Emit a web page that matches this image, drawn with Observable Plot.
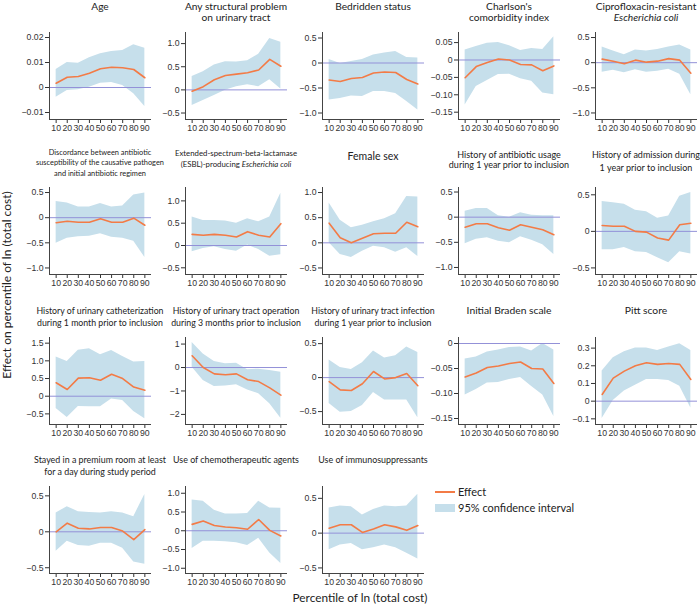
<!DOCTYPE html>
<html>
<head>
<meta charset="utf-8">
<script src="https://cdn.jsdelivr.net/npm/d3@7"></script>
<script src="https://cdn.jsdelivr.net/npm/@observablehq/plot@0.6"></script>
<style>
  html, body { margin: 0; padding: 0; background: #fff; }
  #chart { position: relative; width: 700px; height: 607px; overflow: hidden; font-family: Lato, "Open Sans", sans-serif; color: #222; }
  .ttl { position: absolute; text-align: center; white-space: nowrap; color: #222; }
  .panel { position: absolute; }
</style>
</head>
<body>
<div id="chart"></div>
<script>
// ---------- data ----------
const percentiles = [10, 20, 30, 40, 50, 60, 70, 80, 90];

const titles = [
  ["Age"],
  ["Any structural problem", "on urinary tract"],
  ["Bedridden status"],
  ["Charlson's", "comorbidity index"],
  ["Ciprofloxacin-resistant", "Escherichia coli"],
  ["Discordance between antibiotic", "susceptibility of the causative pathogen", "and initial antibiotic regimen"],
  ["Extended-spectrum-beta-lactamase", "(ESBL)-producing Escherichia coli"],
  ["Female sex"],
  ["History of antibiotic usage", "during 1 year prior to inclusion"],
  ["History of admission during", "1 year prior to inclusion"],
  ["History of urinary catheterization", "during 1 month prior to inclusion"],
  ["History of urinary tract operation", "during 3 months prior to inclusion"],
  ["History of urinary tract infection", "during 1 year prior to inclusion"],
  ["Initial Braden scale"],
  ["Pitt score"],
  ["Stayed in a premium room at least", "for a day during study period"],
  ["Use of chemotherapeutic agents"],
  ["Use of immunosuppressants"]
];
const italicPhrases = ["Escherichia coli"];

const effect = [
  [0.0017, 0.0041, 0.0044, 0.0057, 0.0075, 0.0081, 0.0079, 0.0072, 0.0039],
  [-0.03, 0.07, 0.22, 0.31, 0.34, 0.37, 0.43, 0.66, 0.51],
  [-0.34, -0.37, -0.31, -0.29, -0.20, -0.18, -0.19, -0.33, -0.42],
  [-0.051, -0.019, -0.007, 0.003, 0.0, -0.013, -0.014, -0.031, -0.017],
  [0.07, 0.03, -0.02, 0.05, 0.01, 0.03, 0.08, 0.05, -0.21],
  [-0.10, -0.07, -0.09, -0.09, -0.02, -0.09, -0.09, -0.01, -0.15],
  [0.25, 0.23, 0.25, 0.23, 0.19, 0.31, 0.23, 0.19, 0.49],
  [0.39, 0.10, 0.0, 0.09, 0.18, 0.19, 0.19, 0.41, 0.32],
  [-0.20, -0.13, -0.13, -0.21, -0.26, -0.15, -0.20, -0.25, -0.35],
  [0.08, 0.07, 0.07, 0.0, -0.01, -0.09, -0.12, 0.09, 0.11],
  [0.38, 0.19, 0.51, 0.52, 0.45, 0.62, 0.50, 0.26, 0.17],
  [0.50, 0.0, -0.27, -0.31, -0.27, -0.52, -0.60, -0.87, -1.18],
  [-0.06, -0.18, -0.19, -0.09, 0.09, -0.02, 0.0, 0.06, -0.12],
  [-0.067, -0.059, -0.048, -0.045, -0.040, -0.037, -0.050, -0.051, -0.080],
  [0.038, 0.13, 0.17, 0.20, 0.217, 0.208, 0.213, 0.208, 0.123],
  [0.0, 0.12, 0.05, 0.04, 0.06, 0.06, 0.01, -0.11, 0.03],
  [0.17, 0.26, 0.14, 0.10, 0.08, 0.04, 0.30, 0.01, -0.14],
  [0.07, 0.12, 0.12, 0.01, 0.06, 0.12, 0.09, 0.04, 0.11]
];

const upper = [
  [0.0072, 0.0100, 0.0097, 0.0119, 0.0135, 0.0144, 0.0148, 0.0171, 0.0157],
  [0.29, 0.39, 0.54, 0.61, 0.60, 0.63, 0.77, 1.11, 1.03],
  [0.07, -0.01, 0.03, 0.07, 0.16, 0.20, 0.23, 0.11, 0.10],
  [0.029, 0.039, 0.048, 0.050, 0.041, 0.027, 0.033, 0.030, 0.067],
  [0.31, 0.23, 0.16, 0.25, 0.23, 0.26, 0.31, 0.35, 0.25],
  [0.32, 0.29, 0.21, 0.21, 0.28, 0.21, 0.23, 0.45, 0.49],
  [0.64, 0.56, 0.56, 0.55, 0.50, 0.60, 0.53, 0.64, 1.17],
  [0.79, 0.45, 0.30, 0.35, 0.42, 0.48, 0.58, 0.92, 0.91],
  [0.12, 0.17, 0.17, 0.03, 0.0, 0.09, 0.04, 0.03, 0.03],
  [0.41, 0.39, 0.37, 0.29, 0.27, 0.18, 0.21, 0.48, 0.53],
  [1.11, 0.98, 1.30, 1.34, 1.17, 1.29, 1.12, 0.97, 0.98],
  [1.07, 0.58, 0.26, 0.16, 0.18, -0.09, -0.07, -0.13, -0.20],
  [0.26, 0.15, 0.12, 0.22, 0.39, 0.29, 0.32, 0.45, 0.37],
  [-0.031, -0.027, -0.017, -0.013, -0.008, -0.007, -0.015, 0.0, -0.013],
  [0.17, 0.245, 0.28, 0.30, 0.30, 0.287, 0.306, 0.325, 0.287],
  [0.26, 0.35, 0.28, 0.27, 0.26, 0.28, 0.26, 0.21, 0.52],
  [0.82, 0.79, 0.55, 0.45, 0.45, 0.46, 0.79, 0.61, 0.60],
  [0.36, 0.39, 0.38, 0.26, 0.34, 0.39, 0.38, 0.39, 0.56]
];

const lower = [
  [-0.0039, -0.0012, -0.0009, 0.0001, 0.0017, 0.0020, 0.0008, -0.0025, -0.0076],
  [-0.34, -0.23, -0.12, -0.01, 0.07, 0.11, 0.07, 0.22, 0.02],
  [-0.74, -0.71, -0.66, -0.67, -0.57, -0.57, -0.61, -0.77, -0.94],
  [-0.129, -0.076, -0.059, -0.042, -0.041, -0.054, -0.061, -0.095, -0.100],
  [-0.19, -0.15, -0.20, -0.14, -0.19, -0.17, -0.13, -0.23, -0.64],
  [-0.51, -0.41, -0.38, -0.37, -0.32, -0.39, -0.41, -0.47, -0.79],
  [-0.14, -0.07, -0.03, -0.09, -0.13, 0.01, -0.09, -0.24, -0.21],
  [0.0, -0.23, -0.29, -0.17, -0.07, -0.10, -0.19, -0.10, -0.27],
  [-0.53, -0.44, -0.41, -0.48, -0.51, -0.39, -0.46, -0.55, -0.74],
  [-0.25, -0.25, -0.22, -0.28, -0.29, -0.36, -0.43, -0.28, -0.31],
  [-0.35, -0.60, -0.29, -0.30, -0.30, -0.08, -0.12, -0.43, -0.64],
  [0.01, -0.55, -0.81, -0.79, -0.74, -0.96, -1.12, -1.55, -2.16],
  [-0.38, -0.51, -0.50, -0.41, -0.22, -0.33, -0.33, -0.33, -0.59],
  [-0.103, -0.092, -0.079, -0.078, -0.072, -0.068, -0.086, -0.103, -0.146],
  [-0.098, 0.004, 0.057, 0.09, 0.123, 0.123, 0.117, 0.085, -0.038],
  [-0.27, -0.13, -0.19, -0.20, -0.16, -0.16, -0.23, -0.42, -0.45],
  [-0.47, -0.28, -0.28, -0.29, -0.32, -0.39, -0.20, -0.59, -0.87],
  [-0.24, -0.17, -0.15, -0.24, -0.21, -0.17, -0.21, -0.29, -0.37]
];

const yTicks = [
  [0.02, 0.01, 0, -0.01],
  [1.0, 0.5, 0, -0.5],
  [0.5, 0, -0.5, -1.0],
  [0.05, 0, -0.05, -0.10, -0.15],
  [0.5, 0, -0.5, -1.0],
  [0.5, 0, -0.5, -1.0],
  [1.0, 0.5, 0, -0.5],
  [1.0, 0.5, 0, -0.5],
  [0.5, 0, -0.5, -1.0],
  [0.5, 0, -0.5],
  [1.5, 1.0, 0.5, 0, -0.5],
  [1, 0, -1, -2],
  [0.5, 0, -0.5],
  [0, -0.05, -0.10, -0.15],
  [0.3, 0.2, 0.1, 0, -0.1],
  [0.5, 0, -0.5],
  [1.0, 0.5, 0, -0.5, -1.0],
  [0.5, 0, -0.5]
];
const yTickLabels = [
  ["0.02", "0.01", "0", "\u22120.01"],
  ["1.0", "0.5", "0", "\u22120.5"],
  ["0.5", "0", "\u22120.5", "\u22121.0"],
  ["0.05", "0", "\u22120.05", "\u22120.10", "\u22120.15"],
  ["0.5", "0", "\u22120.5", "\u22121.0"],
  ["0.5", "0", "\u22120.5", "\u22121.0"],
  ["1.0", "0.5", "0", "\u22120.5"],
  ["1.0", "0.5", "0", "\u22120.5"],
  ["0.5", "0", "\u22120.5", "\u22121.0"],
  ["0.5", "0", "\u22120.5"],
  ["1.5", "1.0", "0.5", "0", "\u22120.5"],
  ["1", "0", "\u22121", "\u22122"],
  ["0.5", "0", "\u22120.5"],
  ["0", "\u22120.05", "\u22120.10", "\u22120.15"],
  ["0.3", "0.2", "0.1", "0", "\u22120.1"],
  ["0.5", "0", "\u22120.5"],
  ["1.0", "0.5", "0", "\u22120.5", "\u22121.0"],
  ["0.5", "0", "\u22120.5"]
];
const yDomains = [
  [-0.0128, 0.022], [-0.64, 1.24], [-1.13, 0.61], [-0.171, 0.079], [-1.13, 0.60],
  [-1.13, 0.60], [-0.65, 1.30], [-0.63, 1.10], [-1.14, 0.59], [-0.59, 0.60],
  [-0.80, 1.66], [-2.43, 1.28], [-0.69, 0.59], [-0.162, 0.012], [-0.132, 0.36],
  [-0.58, 0.63], [-1.14, 1.18], [-0.58, 0.67]
];
const xDomain = [4, 96];
const xLabel = "Percentile of ln (total cost)";
const yLabel = "Effect on percentile of ln (total cost)";
const legendLabels = ["Effect", "95% confidence interval"];

// ---------- styles / layout ----------
const COL_AXIS_X = [49, 185, 322, 458, 595];
const ROW_TOP = [32, 187, 337, 486];
const FRAME_W = 102, FRAME_H = 87;
const ML = 32, MR = 2, MT = 4, MB = 22;
const BAND = "#c6dfeb", LINE = "#f37b46", ZERO = "#9391d8", AXIS = "#444";
const titleSize = [10.2,10.2,10.2,10.2,10.2, 7.4,7.8,10.5,9,9, 8.75,8.75,8.75,10.3,10.3, 8.9,8.9,8.9];
const titleLH = [11,11,11,11,11, 10.5,11,11,10.5,12.5, 12,12,12,12,12, 12,12,12];
const titleCenter = [6.5,6.5,6.5,6.5,6.5, 153,153,156,155,155.5, 311,311,311,310,310, 460,460,460];

const chart = document.getElementById("chart");

function fmtTitle(line) {
  let s = line.replace(/&/g, "&amp;").replace(/</g, "&lt;");
  italicPhrases.forEach(p => { s = s.split(p).join("<i>" + p + "</i>"); });
  return s;
}

titles.forEach((t, i) => {
  const r = Math.floor(i / 5), c = i % 5;
  const rows = percentiles.map((p, j) => ({p, eff: effect[i][j], lo: lower[i][j], hi: upper[i][j]}));
  const svg = Plot.plot({
    width: ML + FRAME_W + MR,
    height: MT + FRAME_H + MB,
    marginLeft: ML, marginRight: MR, marginTop: MT, marginBottom: MB,
    style: {background: "transparent", fontFamily: "'Liberation Sans', Arial, sans-serif", fontSize: "8.7px", color: "#333", overflow: "visible"},
    x: {domain: xDomain, ticks: percentiles, tickSize: 4, tickPadding: 1.5, label: null, tickFormat: d => String(d)},
    y: {domain: yDomains[i], ticks: yTicks[i], tickSize: 4, tickPadding: 2, label: null,
        tickFormat: d => yTickLabels[i][yTicks[i].indexOf(d)]},
    marks: [
      Plot.areaY(rows, {x: "p", y1: "lo", y2: "hi", fill: BAND}),
      Plot.ruleY([0], {stroke: ZERO, strokeWidth: 1}),
      Plot.lineY(rows, {x: "p", y: "eff", stroke: LINE, strokeWidth: 1.6}),
      Plot.ruleX([xDomain[0]], {stroke: AXIS, strokeWidth: 1}),
      Plot.ruleY([yDomains[i][0]], {stroke: AXIS, strokeWidth: 1})
    ]
  });
  svg.classList.add("panel");
  svg.style.left = (COL_AXIS_X[c] - ML) + "px";
  svg.style.top = (ROW_TOP[r] - MT) + "px";
  chart.appendChild(svg);

  const d = document.createElement("div");
  d.className = "ttl";
  d.style.fontSize = titleSize[i] + "px";
  d.style.lineHeight = titleLH[i] + "px";
  d.style.top = (titleCenter[i] - titleLH[i] / 2) + "px";
  d.style.left = (COL_AXIS_X[c] + FRAME_W / 2 - 80) + "px";
  d.style.width = "160px";
  d.innerHTML = t.map(fmtTitle).join("<br>");
  chart.appendChild(d);
});

// axis titles
const xl = document.createElement("div");
xl.textContent = xLabel;
Object.assign(xl.style, {position: "absolute", left: "200px", width: "320px", textAlign: "center", top: "590px", fontSize: "11.8px", lineHeight: "16px", color: "#222"});
chart.appendChild(xl);

const yl = document.createElement("div");
yl.textContent = yLabel;
Object.assign(yl.style, {position: "absolute", left: "7px", top: "285px", width: "300px", textAlign: "center", fontSize: "12px", lineHeight: "16px", color: "#222",
  transform: "translate(-50%, -50%) rotate(-90deg)", whiteSpace: "nowrap"});
chart.appendChild(yl);

// legend
const lg = document.createElement("div");
Object.assign(lg.style, {position: "absolute", left: "435px", top: "484px", fontSize: "11px", color: "#222"});
lg.innerHTML =
  `<div style="position:relative;height:16px"><span style="position:absolute;left:0;top:7px;width:20px;height:2px;background:${LINE}"></span><span style="position:absolute;left:23px;top:0;line-height:16px">${legendLabels[0]}</span></div>` +
  `<div style="position:relative;height:16px"><span style="position:absolute;left:0;top:4px;width:20px;height:8px;background:${BAND}"></span><span style="position:absolute;left:23px;top:0;line-height:16px;white-space:nowrap">${legendLabels[1]}</span></div>`;
chart.appendChild(lg);
</script>
</body>
</html>
